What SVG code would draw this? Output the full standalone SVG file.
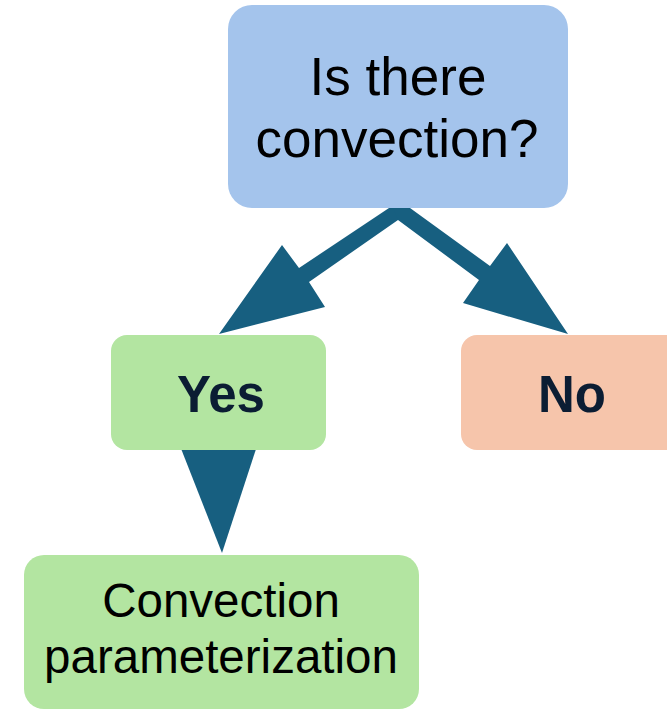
<svg xmlns="http://www.w3.org/2000/svg" width="667" height="711" viewBox="0 0 667 711">
<style>
.t{font-family:"Liberation Sans",Arial,sans-serif;text-anchor:middle;fill:#000}
.b{font-family:"Liberation Sans",Arial,sans-serif;text-anchor:middle;font-weight:bold;fill:#0b1d33}
.arr{fill:#175f80}
</style>
<rect width="667" height="711" fill="#fff"/>
<g id="connectors">
<polygon class="arr" points="401,200 299,268 282,245 219,334 325,307 309,282 398,220 412,200"/>
<polygon class="arr" points="399,200 490,266 507,243 568,334 463,303 479,280 398,220 390,200"/>
<polygon class="arr" points="180,446 257,446 222,553"/>
</g>
<g id="question">
<rect x="228" y="5" width="340" height="203" rx="24" fill="#a4c4ec"/>
<text class="t" x="398" y="95" font-size="53">Is there</text>
<text class="t" x="397" y="157" font-size="53">convection?</text>
</g>
<g id="yes">
<rect x="111" y="335" width="215" height="115" rx="16" fill="#b3e5a1"/>
<text class="b" x="221" y="412" font-size="51">Yes</text>
</g>
<g id="no">
<rect x="461" y="335" width="220" height="115" rx="16" fill="#f6c5ab"/>
<text class="b" x="572" y="412" font-size="51">No</text>
</g>
<g id="param">
<rect x="24" y="555" width="395" height="154" rx="20" fill="#b3e5a1"/>
<text class="t" x="221" y="617" font-size="47.5">Convection</text>
<text class="t" x="221" y="673" font-size="47.5">parameterization</text>
</g>
</svg>
